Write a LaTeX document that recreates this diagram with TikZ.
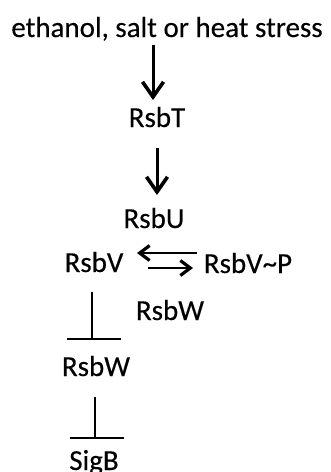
\documentclass[tikz,border=0pt]{standalone}
\usepackage{fontspec}
\setmainfont[FakeBold=0.3]{Carlito}
\usetikzlibrary{arrows.meta}
\begin{document}
\begin{tikzpicture}[x=1pt,y=-1pt,
  lbl/.style={inner sep=0pt,anchor=base,font=\fontsize{29}{34}\selectfont},
  act/.style={line width=3pt,-{Straight Barb[length=15pt,width=21pt,line width=3.6pt]}},
  xch/.style={line width=2.8pt,-{Straight Barb[length=10pt,width=15pt,line width=3.2pt]}},
  inh/.style={line width=2.8pt}]
\useasboundingbox (0,0) rectangle (331,472);
% species
\node[lbl] (stress) at (167,37) {ethanol, salt or heat stress};
\node[lbl] (rsbT) at (157,127) {RsbT};
\node[lbl] (rsbU) at (154,228) {RsbU};
\node[lbl] (rsbV) at (94,272) {RsbV};
\node[lbl] (rsbVP) at (248,273) {RsbV\~{}P};
\node[lbl] (rsbWs) at (170,320) {RsbW};
\node[lbl] (rsbW) at (96,376) {RsbW};
\node[lbl] (sigB) at (94,470) {SigB};
% arrow end points
\coordinate (a1s) at (153,45);  \coordinate (a1e) at (153,100);
\coordinate (a2s) at (157,148); \coordinate (a2e) at (157,195);
\coordinate (ups) at (197,253); \coordinate (upe) at (137,253);
\coordinate (lws) at (148,268); \coordinate (lwe) at (193,268);
\coordinate (i1s) at (92,292);  \coordinate (i1e) at (92,339);
\coordinate (i2s) at (95,397);  \coordinate (i2e) at (95,438);
% activation
\draw[act] (a1s) -- (a1e);
\draw[act] (a2s) -- (a2e);
% phosphorylation exchange
\draw[xch] (ups) -- (upe);
\draw[xch] (lws) -- (lwe);
% inhibition
\draw[inh] (i1s) -- (i1e);
\draw[inh] ([xshift=-25pt]i1e) -- ([xshift=29pt]i1e);
\draw[inh] (i2s) -- (i2e);
\draw[inh] ([xshift=-25pt]i2e) -- ([xshift=29pt]i2e);
\end{tikzpicture}
\end{document}
